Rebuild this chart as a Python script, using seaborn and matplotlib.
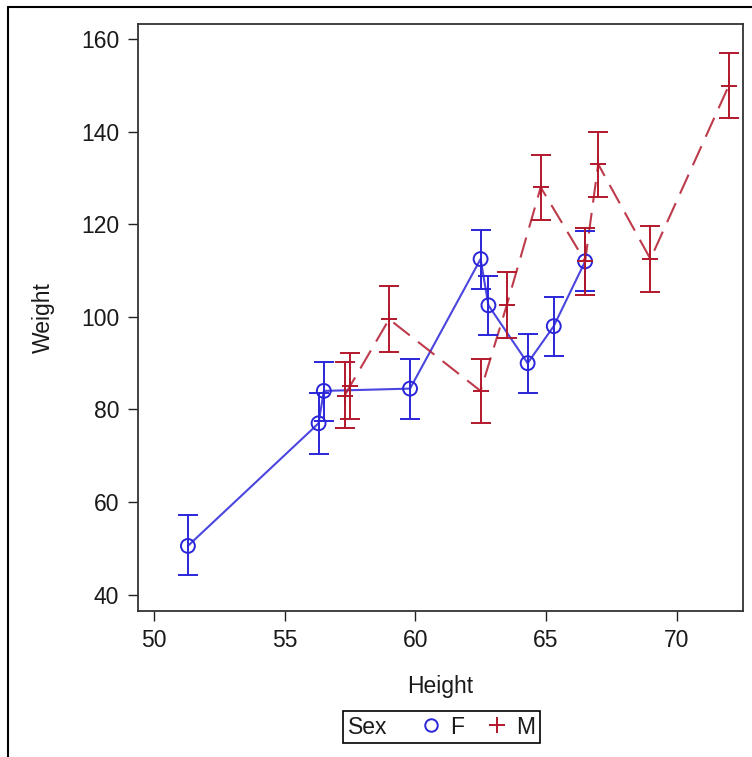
import matplotlib
matplotlib.use("Agg")
import matplotlib.pyplot as plt
from matplotlib.lines import Line2D
from matplotlib.offsetbox import HPacker
import numpy as np
import pandas as pd
import seaborn as sns

# ---- data (sashelp.class style) ----
f_height = [51.3, 56.3, 56.5, 59.8, 62.5, 62.8, 64.3, 65.3, 66.5]
f_weight = [50.5, 77.0, 84.0, 84.5, 112.5, 102.5, 90.0, 98.0, 112.0]
f_lower = [44.3, 70.4, 77.4, 77.9, 106.1, 96.1, 83.6, 91.5, 105.5]
f_upper = [57.1, 83.6, 90.2, 91.0, 118.8, 108.8, 96.4, 104.4, 118.5]

m_height = [57.3, 57.5, 59.0, 62.5, 63.5, 64.8, 66.5, 67.0, 69.0, 72.0]
m_weight = [83.0, 85.0, 99.5, 84.0, 102.5, 128.0, 112.0, 133.0, 112.5, 150.0]
m_lower = [75.9, 77.9, 92.4, 77.0, 95.5, 121.0, 104.8, 126.0, 105.3, 143.0]
m_upper = [90.3, 92.3, 106.7, 91.0, 109.7, 135.0, 119.2, 140.0, 119.7, 157.0]

sex_levels = ["F", "M"]
x_ticks = [50, 55, 60, 65, 70]
y_ticks = [40, 60, 80, 100, 120, 140, 160]

df = pd.DataFrame({
    "Height": f_height + m_height,
    "Weight": f_weight + m_weight,
    "Lower": f_lower + m_lower,
    "Upper": f_upper + m_upper,
    "Sex": ["F"] * len(f_height) + ["M"] * len(m_height),
})

blue = "#2A25D9"
red = "#B2182B"
palette = {"F": blue, "M": red}
markers = {"F": "o", "M": "+"}
linestyles = {"F": "-", "M": (0, (10, 5))}
msizes = {"F": 10, "M": 12}

sns.set_theme(style="white")
plt.rcParams["font.family"] = ["Liberation Sans", "DejaVu Sans"]
FS = 16.5
TXT = "#1a1a1a"

fig = plt.figure(figsize=(7.52, 7.57), dpi=100)
ax = fig.add_axes([138 / 752, 1 - 610.7 / 757, (742.7 - 138) / 752, (610.7 - 24) / 757])

for s in sex_levels:
    sub = df[df["Sex"] == s]
    sns.lineplot(data=sub, x="Height", y="Weight", color=palette[s],
                 linewidth=1.5, legend=False, ax=ax, zorder=3,
                 linestyle=linestyles[s], alpha=0.85)
    sns.scatterplot(data=sub, x="Height", y="Weight", ax=ax, legend=False,
                    marker=markers[s], s=msizes[s] ** 2,
                    facecolors="none" if s == "F" else palette[s],
                    edgecolors=palette[s], color=palette[s],
                    linewidths=1.4, zorder=5)
    ax.errorbar(sub["Height"], sub["Weight"],
                yerr=[sub["Weight"] - sub["Lower"], sub["Upper"] - sub["Weight"]],
                fmt="none", ecolor=palette[s], elinewidth=1.4, capsize=7,
                capthick=1.4, zorder=4)

ax.set_xlim(49.39, 72.53)
ax.set_ylim(36.5, 163.3)
ax.set_xticks(x_ticks)
ax.set_yticks(y_ticks)
ax.tick_params(axis="both", which="major", direction="out", length=7.5, width=1.0,
               color="#222222", labelsize=FS, labelcolor=TXT, pad=6,
               bottom=True, left=True)
for sp in ax.spines.values():
    sp.set_visible(True)
    sp.set_color("#333333")
    sp.set_linewidth(1.3)
ax.set_xlabel("Height", fontsize=FS, color=TXT, labelpad=16)
ax.set_ylabel("Weight", fontsize=FS, color=TXT, labelpad=19)

# legend: title "Sex" placed to the left of the entries
handles = [
    Line2D([], [], linestyle="none", marker="o", markersize=9, mfc="none",
           mec=blue, mew=1.4),
    Line2D([], [], linestyle="none", marker="+", markersize=11, mec=red, mew=1.4),
]
leg = fig.legend(handles, sex_levels, ncol=2, loc="center", title="Sex",
                 title_fontsize=FS,
                 bbox_to_anchor=(441.5 / 752, 1 - 727 / 757), fontsize=FS,
                 frameon=True, fancybox=False, framealpha=1, edgecolor="black",
                 handlelength=0.8, handletextpad=0.45, columnspacing=1.0,
                 borderpad=0.2, borderaxespad=0)
try:
    fs_pt = leg._fontsize
    newbox = HPacker(pad=leg.borderpad * fs_pt, sep=1.5 * fs_pt, align="center",
                     children=[leg._legend_title_box, leg._legend_handle_box])
    newbox.set_figure(fig)
    newbox.axes = leg.axes
    newbox.set_offset(leg._findoffset)
    leg._legend_box = newbox
except Exception:
    pass
leg.get_frame().set_linewidth(1.2)
leg.get_title().set_color(TXT)
for t in leg.get_texts():
    t.set_color(TXT)

# outer frame (left and top)
fig.add_artist(Line2D([7.5 / 752, 7.5 / 752], [0, 1 - 6.7 / 757],
                      transform=fig.transFigure, color="black", linewidth=1.5))
fig.add_artist(Line2D([7.5 / 752, 1], [1 - 6.7 / 757, 1 - 6.7 / 757],
                      transform=fig.transFigure, color="black", linewidth=1.5))

fig.savefig("out.png", dpi=100, facecolor="white")
